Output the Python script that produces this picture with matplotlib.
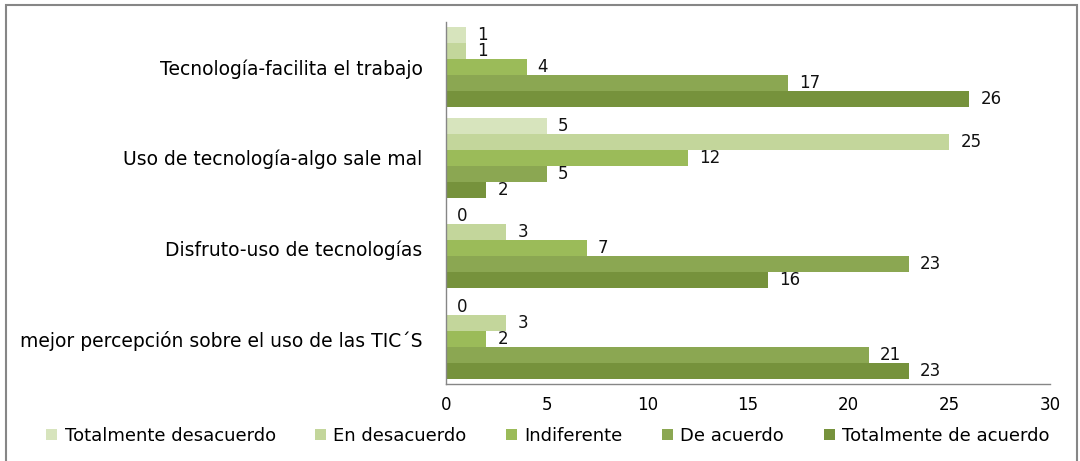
import matplotlib
matplotlib.use("Agg")
import matplotlib.pyplot as plt
import numpy as np
from matplotlib.patches import Rectangle

categories = ["Tecnología-facilita el trabajo",
              "Uso de tecnología-algo sale mal",
              "Disfruto-uso de tecnologías",
              "mejor percepción sobre el uso de las TIC´S"]
series_names = ["Totalmente desacuerdo", "En desacuerdo", "Indiferente",
                "De acuerdo", "Totalmente de acuerdo"]
totalmente_desacuerdo = [1, 5, 0, 0]
en_desacuerdo = [1, 25, 3, 3]
indiferente = [4, 12, 7, 2]
de_acuerdo = [17, 5, 23, 21]
totalmente_de_acuerdo = [26, 2, 16, 23]
x_ticks = [0, 5, 10, 15, 20, 25, 30]

series = [totalmente_desacuerdo, en_desacuerdo, indiferente, de_acuerdo, totalmente_de_acuerdo]
colors = ["#D7E4BD", "#C3D69B", "#9BBB59", "#8BA752", "#76923C"]

fig = plt.figure(figsize=(10.8, 4.61), dpi=100)
ax = fig.add_axes([446/1080, 1-384/461, (1050-446)/1080, (384-22)/461])

h = 16/91
y = np.arange(len(categories))
for j, (vals, c, name) in enumerate(zip(series, colors, series_names)):
    ypos = y + (j - 2) * h
    ax.barh(ypos, vals, height=h, color=c, label=name, edgecolor="none")
    for yy, v in zip(ypos, vals):
        ax.annotate(str(v), (v, yy), xytext=(8, 0), textcoords="offset points",
                    va="center", ha="left", fontsize=12, color="#111111",
                    family="DejaVu Sans")

ax.set_ylim(len(categories) - 0.5, -0.5)
ax.set_xlim(0, 30)
ax.set_xticks(x_ticks)
ax.set_yticks(y)
ax.set_yticklabels(categories, fontsize=13.5, family="DejaVu Sans")
ax.tick_params(axis="y", length=0, pad=17)
ax.tick_params(axis="x", length=0, pad=9, labelsize=12)
for lbl in ax.get_xticklabels():
    lbl.set_family("DejaVu Sans")
for s in ["top", "right"]:
    ax.spines[s].set_visible(False)
for s in ["left", "bottom"]:
    ax.spines[s].set_color("#868686")
    ax.spines[s].set_linewidth(1.0)

fig.legend(loc="center", bbox_to_anchor=(548/1080, 1-436/461), ncol=5,
           frameon=False, handlelength=0.6, handleheight=0.6,
           handletextpad=0.4, columnspacing=2.2,
           prop={"family": "DejaVu Sans", "size": 13})

fig.patches.append(Rectangle((6/1080, -0.01), (1077-6)/1080, 1 - 5/461 + 0.01,
                             transform=fig.transFigure, fill=False,
                             edgecolor="#868686", linewidth=1.5))

fig.savefig("out.png", dpi=100)
